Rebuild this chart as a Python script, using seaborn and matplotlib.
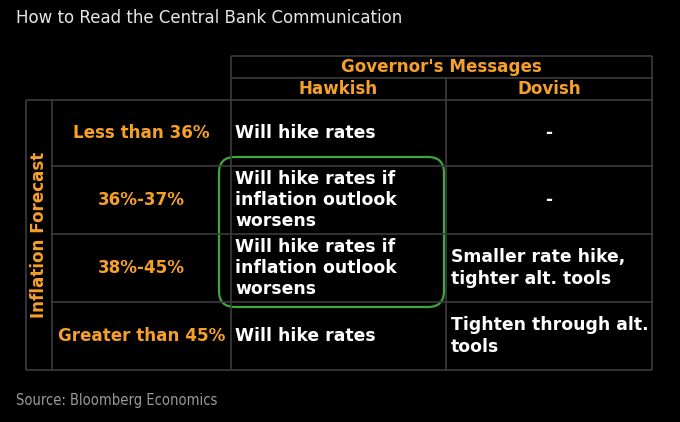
import matplotlib
matplotlib.use("Agg")
import matplotlib.pyplot as plt
import seaborn as sns
from matplotlib.patches import FancyBboxPatch

sns.set_theme(style="dark")
plt.rcParams['font.family'] = ['DejaVu Sans']

title = "How to Read the Central Bank Communication"
source = "Source: Bloomberg Economics"
header = "Governor's Messages"
columns = ["Hawkish", "Dovish"]
row_axis_label = "Inflation Forecast"
row_labels = ["Less than 36%", "36%-37%", "38%-45%", "Greater than 45%"]
hawkish = ["Will hike rates",
           "Will hike rates if\ninflation outlook\nworsens",
           "Will hike rates if\ninflation outlook\nworsens",
           "Will hike rates"]
dovish = ["-", "-", "Smaller rate hike,\ntighter alt. tools",
          "Tighten through alt.\ntools"]

ORANGE = "#f5a02a"
WHITE = "#ffffff"
GRID = "#3c3c3c"
BG = "#000000"

W, H = 680, 422
fig = plt.figure(figsize=(6.8, 4.22), dpi=100, facecolor=BG)
ax = fig.add_axes([0, 0, 1, 1])
ax.set_facecolor(BG)
ax.set_xlim(0, W)
ax.set_ylim(H, 0)
ax.axis("off")

# layout (pixels)
x_out, x_lab, x_h, x_d, x_r = 26, 52, 231, 446, 652
y_top, y_mid, y_tab = 56, 78, 100
row_edges = [100, 166, 234, 302, 370]

lw = 1.2
def hline(y, x0, x1):
    ax.plot([x0, x1], [y, y], color=GRID, lw=lw, solid_capstyle="butt")
def vline(x, y0, y1):
    ax.plot([x, x], [y0, y1], color=GRID, lw=lw, solid_capstyle="butt")

hline(y_top, x_h, x_r)
hline(y_mid, x_h, x_r)
for y in row_edges:
    hline(y, x_out if y in (row_edges[0], row_edges[-1]) else x_lab, x_r)
vline(x_out, y_tab, row_edges[-1])
vline(x_lab, y_tab, row_edges[-1])
vline(x_h, y_top, row_edges[-1])
vline(x_d, y_mid, row_edges[-1])
vline(x_r, y_top, row_edges[-1])

fs = 12.1
fw = 12.4
ls = 1.25
ax.text(16, 18, title, color="#e6e6e6", fontsize=12, ha="left", va="center")
ax.text((x_h + x_r) / 2, 67.5, header, color=ORANGE, fontsize=fs, fontweight="bold",
        ha="center", va="center")
ax.text((x_h + x_d) / 2, 89.5, columns[0], color=ORANGE, fontsize=fs, fontweight="bold",
        ha="center", va="center")
ax.text((x_d + x_r) / 2, 89.5, columns[1], color=ORANGE, fontsize=fs, fontweight="bold",
        ha="center", va="center")
ax.text((x_out + x_lab) / 2, (row_edges[0] + row_edges[-1]) / 2, row_axis_label,
        color=ORANGE, fontsize=fs, fontweight="bold", rotation=90,
        ha="center", va="center")

for i, (lab, hk, dv) in enumerate(zip(row_labels, hawkish, dovish)):
    yc = (row_edges[i] + row_edges[i + 1]) / 2
    ax.text((x_lab + x_h) / 2, yc, lab, color=ORANGE, fontsize=fs,
            fontweight="bold", ha="center", va="center")
    ax.text(x_h + 4, yc, hk, color=WHITE, fontsize=fw, fontweight="bold",
            ha="left", va="center", linespacing=ls)
    if dv == "-":
        ax.text((x_d + x_r) / 2, yc, dv, color=WHITE, fontsize=fw,
                fontweight="bold", ha="center", va="center")
    else:
        ax.text(x_d + 5, yc, dv, color=WHITE, fontsize=fw, fontweight="bold",
                ha="left", va="center", linespacing=ls)

box = FancyBboxPatch((219, 157), 225, 150, boxstyle="round,pad=0,rounding_size=16",
                     fill=False, ec="#3da83d", lw=1.6)
ax.add_patch(box)

ax.text(16, 401, source, color="#9a9a9a", fontsize=10.5, fontstretch="condensed",
        family=["DejaVu Sans Condensed", "DejaVu Sans"], ha="left", va="center")

fig.savefig("out.png", dpi=100, facecolor=BG)
